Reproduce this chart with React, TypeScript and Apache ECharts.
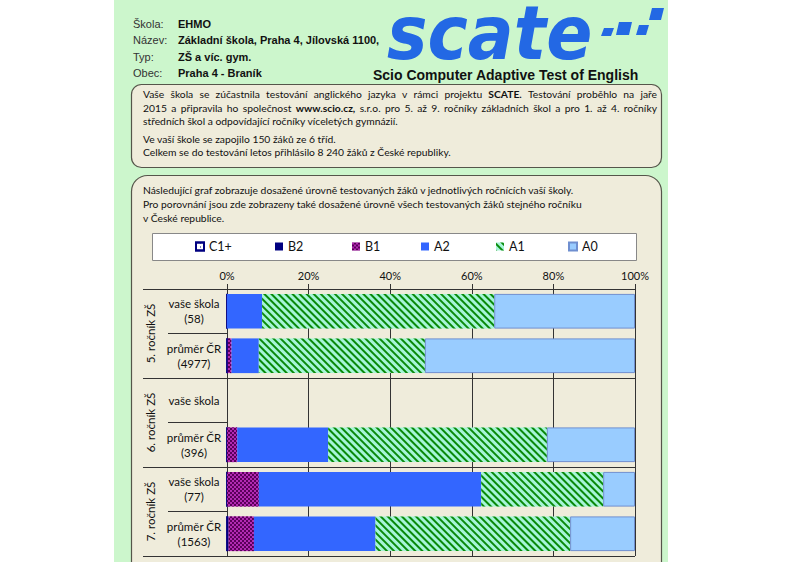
import React, { useEffect, useRef } from 'react';
import * as echarts from 'echarts';

// ---- data ----
const rowLabels = [
  'vaše škola\n(58)',
  'průměr ČR\n(4977)',
  'vaše škola',
  'průměr ČR\n(396)',
  'vaše škola\n(77)',
  'průměr ČR\n(1563)',
];
const groupLabels = ['5. ročník ZŠ', '6. ročník ZŠ', '7. ročník ZŠ'];
const levelNames = ['C1+', 'B2', 'B1', 'A2', 'A1', 'A0'];
const c1Values = [0, 0, null, 0, 0, 0];
const b2Values = [0, 0.2, null, 0, 0, 0.4];
const b1Values = [0, 0.9, null, 2.5, 7.8, 6.2];
const a2Values = [8.6, 6.7, null, 22.3, 54.5, 29.8];
const a1Values = [56.9, 40.7, null, 53.6, 29.9, 47.7];
const a0Values = [34.5, 51.5, null, 21.6, 7.8, 15.9];
const xTickMax = 100;
const xTickStep = 20;

const headerLabels = ['Škola:', 'Název:', 'Typ:', 'Obec:'];
const headerValues = ['EHMO', 'Základní škola, Praha 4, Jílovská 1100,', 'ZŠ a víc. gym.', 'Praha 4 - Braník'];

// text lines: words wrapped in *...* are bold
const infoLines = [
  'Vaše škola se zúčastnila testování anglického jazyka v rámci projektu *SCATE*. Testování proběhlo na jaře',
  '2015 a připravila ho společnost *www.scio.cz*, s.r.o. pro 5. až 9. ročníky základních škol a pro 1. až 4. ročníky',
  'středních škol a odpovídající ročníky víceletých gymnázií.',
  'Ve vaší škole se zapojilo 150 žáků ze 6 tříd.',
  'Celkem se do testování letos přihlásilo 8 240 žáků z České republiky.',
];
const infoJustified = [true, true, false, false, false];
const chartLines = [
  'Následující graf zobrazuje dosažené úrovně testovaných žáků v jednotlivých ročnících vaší školy.',
  'Pro porovnání jsou zde zobrazeny také dosažené úrovně všech testovaných žáků stejného ročníku',
  'v České republice.',
];

const BODY_FAMILY = 'Lato';
const BODY_SIZE = 10.3;
const ARIAL = '"Liberation Sans", Arial, sans-serif';

const seriesValues = [c1Values, b2Values, b1Values, a2Values, a1Values, a0Values];
const seriesStyles: any[] = [
  { color: '#ffffff', borderColor: '#000080', borderWidth: 1,
    decal: { symbol: 'rect', color: '#000080', dashArrayX: [[1, 3]], dashArrayY: [1, 3], symbolSize: 1 } },
  { color: '#000080' },
  { color: '#b22ab2',
    decal: { symbol: 'rect', color: '#5a005a', dashArrayX: [[2, 2], [0, 2, 2, 0]], dashArrayY: [2, 0], symbolSize: 1, rotation: 0 } },
  { color: '#3366ff' },
  { color: '#a6f5d8',
    decal: { symbol: 'rect', color: '#0a8a0a', dashArrayX: [[1, 0]], dashArrayY: [2, 3], symbolSize: 1, rotation: Math.PI / 4 } },
  { color: '#99ccff', borderColor: '#6f8fd0', borderWidth: 1 },
];
const legendX = [195, 275, 352, 421, 496, 568];

function textLine(out: any[], line: string, x: number, y: number, justifyTo: number | null, ctx: CanvasRenderingContext2D | null) {
  const words = line.split(' ').map((w) => {
    const bold = w.includes('*');
    return { t: w.replace(/\*/g, ''), bold };
  });
  const fontOf = (b: boolean) => `${b ? 'bold ' : ''}${BODY_SIZE}px ${BODY_FAMILY}`;
  if (justifyTo !== null && ctx) {
    const widths = words.map((w) => { ctx.font = fontOf(w.bold); return ctx.measureText(w.t).width; });
    const total = widths.reduce((a, b) => a + b, 0);
    const gap = (justifyTo - x - total) / (words.length - 1);
    let cx = x;
    words.forEach((w, i) => {
      out.push({ type: 'text', z: 50, x: cx, y, style: { text: w.t, fontSize: BODY_SIZE, fontFamily: BODY_FAMILY, fontWeight: w.bold ? 'bold' : 'normal', fill: '#111', verticalAlign: 'middle' } });
      cx += widths[i] + gap;
    });
  } else {
    const rich = line.replace(/\*([^*]+)\*/g, '{b|$1}');
    out.push({ type: 'text', z: 50, x, y, style: { text: rich, fontSize: BODY_SIZE, fontFamily: BODY_FAMILY, fill: '#111', verticalAlign: 'middle',
      rich: { b: { fontWeight: 'bold', fontSize: BODY_SIZE, fontFamily: BODY_FAMILY, fill: '#111' } } } });
  }
}

export default function App() {
  const ref = useRef<HTMLDivElement>(null);
  useEffect(() => {
    if (!ref.current) return;
    const chart = echarts.init(ref.current, undefined, { renderer: 'svg' });
    const ctx = document.createElement('canvas').getContext('2d');

    const graphics: any[] = [];
    // green panel
    graphics.push({ type: 'rect', z: -20, shape: { x: 114, y: 0, width: 554, height: 562 }, style: { fill: '#ccf6cc' } });
    // header
    const hy = [24, 40, 57, 73];
    headerLabels.forEach((t, i) => {
      graphics.push({ type: 'text', z: 50, x: 133, y: hy[i], style: { text: t, fontSize: 11, fontFamily: ARIAL, fill: '#333', verticalAlign: 'middle' } });
      graphics.push({ type: 'text', z: 50, x: 178, y: hy[i], style: { text: headerValues[i], fontSize: 11, fontWeight: 'bold', fontFamily: ARIAL, fill: '#111', verticalAlign: 'middle' } });
    });
    // logo
    graphics.push({
      type: 'text', z: 50, x: 387, y: 33, scaleX: 1.0, scaleY: 1.1,
      style: {
        text: 'scate', fontSize: 68, lineHeight: 50, fontWeight: 'bold', fontStyle: 'italic', fontFamily: 'DejaVu Sans',
        verticalAlign: 'middle', fill: '#2368e4',
      },
    });
    const sq = [
      [601, 28, 10, 8], [616, 22, 13, 13], [636, 25, 10, 10], [649, 8, 12, 12],
    ];
    sq.forEach(([x, y, w, h]) => {
      graphics.push({ type: 'polygon', z: 50, shape: { points: [[x + 3, y], [x + w + 3, y], [x + w, y + h], [x, y + h]] }, style: { fill: '#2368e4' } });
    });
    graphics.push({ type: 'text', z: 50, x: 373, y: 75, style: { text: 'Scio Computer Adaptive Test of English', fontSize: 14, fontWeight: 'bold', fontFamily: ARIAL, fill: '#111', verticalAlign: 'middle' } });

    // info box
    graphics.push({ type: 'rect', z: -10, shape: { x: 131.5, y: 84.5, width: 530, height: 83, r: 10 }, style: { fill: '#efecdb', stroke: '#55554a', lineWidth: 1.2 } });
    const infoY = [94, 108, 121, 139, 152];
    infoLines.forEach((t, i) => textLine(graphics, t, 143, infoY[i], infoJustified[i] ? 657 : null, ctx));
    // chart box
    graphics.push({ type: 'rect', z: -10, shape: { x: 131.5, y: 175.5, width: 530, height: 440, r: 16 }, style: { fill: '#efecdb', stroke: '#55554a', lineWidth: 1.2 } });
    const chartY = [190, 204, 218];
    chartLines.forEach((t, i) => textLine(graphics, t, 143, chartY[i], null, ctx));
    // legend box
    graphics.push({ type: 'rect', z: -5, shape: { x: 152.5, y: 233.5, width: 484, height: 27 }, style: { fill: '#ffffff', stroke: '#888', lineWidth: 1 } });

    const option: any = {
      animation: false,
      backgroundColor: '#ffffff',
      graphic: graphics,
      legend: levelNames.map((n, i) => ({
        data: [n], left: legendX[i], top: 240, padding: 0, itemWidth: 8, itemHeight: 8, icon: 'rect',
        textStyle: { fontSize: 12.5, fontFamily: BODY_FAMILY, color: '#111' },
      })),
      grid: { left: 227, top: 289, width: 408, height: 267, containLabel: false },
      xAxis: {
        type: 'value', position: 'top', min: 0, max: xTickMax, interval: xTickStep,
        axisLine: { show: true, lineStyle: { color: '#333', width: 1 } },
        axisTick: { show: true, length: 5, lineStyle: { color: '#333' } },
        axisLabel: { formatter: '{value}%', fontSize: 11, fontFamily: BODY_FAMILY, color: '#111', margin: 8 },
        splitLine: { show: true, lineStyle: { color: '#333', width: 1 } },
      },
      yAxis: [
        {
          type: 'category', data: rowLabels, inverse: true, position: 'left',
          axisLine: { show: false },
          axisTick: { show: true, length: 59, lineStyle: { color: '#333' } },
          axisLabel: { margin: 33, align: 'center', fontSize: 11.5, lineHeight: 15, fontFamily: BODY_FAMILY, color: '#111' },
          splitLine: { show: false },
        },
        {
          type: 'category', data: groupLabels, inverse: true, position: 'left',
          axisLine: { show: false },
          axisTick: { show: true, length: 84, lineStyle: { color: '#333' } },
          axisLabel: { rotate: 90, margin: 77, align: 'center', verticalAlign: 'middle', fontSize: 11.5, fontFamily: BODY_FAMILY, color: '#111' },
          splitLine: { show: true, lineStyle: { color: '#333', width: 1 } },
        },
      ],
      series: levelNames.map((n, i) => ({
        name: n, type: 'bar', stack: 'total', yAxisIndex: 0, barCategoryGap: '22%',
        data: seriesValues[i], itemStyle: seriesStyles[i], emphasis: { disabled: true },
      })),
    };
    chart.setOption(option);
    return () => chart.dispose();
  }, []);
  return <div ref={ref} style={{ position: 'absolute', left: 0, top: 0, width: 800, height: 562 }} />;
}
